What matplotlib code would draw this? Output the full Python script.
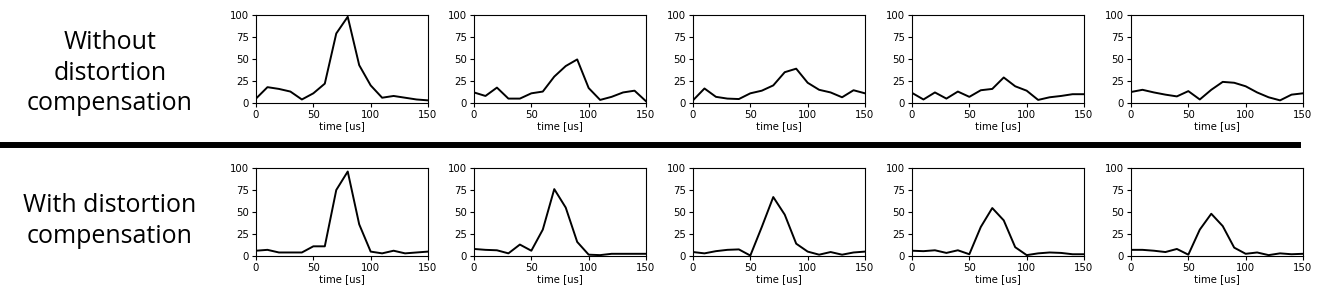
import numpy as np
import matplotlib.pyplot as plt
from matplotlib.lines import Line2D

TIME = [0, 10, 20, 30, 40, 50, 60, 70, 80, 90, 100, 110, 120, 130, 140, 150]

# without distortion compensation
WITHOUT = [
    [5, 18, 16, 13, 4, 11, 22, 79, 98, 43, 20, 6, 8, 6, 4, 3],
    [12, 8, 17.5, 5, 5, 11, 13, 30, 42, 49.5, 17, 3.5, 7, 12, 14, 2],
    [3, 16.5, 7, 5, 4.5, 11, 14, 20, 35, 39, 23, 15, 12, 6.5, 14.5, 11],
    [11.5, 4, 12, 5, 13, 7, 14.5, 16, 29, 19, 14, 3.5, 6.5, 8, 10, 10],
    [12.5, 15, 12, 9.5, 7.5, 13.5, 4, 15, 24, 23, 19, 12, 6.5, 3, 9.5, 11],
]

# with distortion compensation
WITH = [
    [6, 7, 4, 4, 4, 11, 11, 75, 96, 36, 5, 3, 6, 3, 4, 5],
    [8, 7, 6.5, 3, 13, 6, 30, 76, 55, 16, 1.5, 1, 2.5, 2.5, 2.5, 2.5],
    [4.5, 3, 5.5, 7, 7.5, 0.5, 33, 67, 47, 14, 5, 1.5, 4.5, 1.5, 4, 5],
    [6, 5.5, 6.5, 3.5, 6.5, 2, 33, 54.5, 40.5, 10, 1, 3, 4, 3.5, 2, 2],
    [7, 7, 6, 4.5, 8, 1.5, 30, 48, 34, 9.5, 2.5, 4, 1, 3, 2, 2.5],
]

ROW_LABELS = ["Without\ndistortion\ncompensation", "With distortion\ncompensation"]

W, H = 1323, 298
fig = plt.figure(figsize=(W / 100, H / 100), dpi=100)

lefts = [256, 474, 693, 912, 1131]
tops = [15, 168]
aw, ah = 172, 88

for r, rows in enumerate([WITHOUT, WITH]):
    for c, vals in enumerate(rows):
        ax = fig.add_axes([lefts[c] / W, 1 - (tops[r] + ah) / H, aw / W, ah / H])
        ax.plot(TIME, vals, color="black", linewidth=1.4)
        ax.set_xlim(0, 150)
        ax.set_ylim(0, 100)
        ax.set_xticks([0, 50, 100, 150])
        ax.set_yticks([0, 25, 50, 75, 100])
        ax.tick_params(labelsize=7.3, length=3, width=0.8, pad=2)
        ax.set_xlabel("time [us]", fontsize=7.3, labelpad=1)
        for s in ax.spines.values():
            s.set_linewidth(0.8)

# row labels
fig.text(110 / W, 1 - 73 / H, ROW_LABELS[0], ha="center", va="center",
         fontsize=18, family="Open Sans", linespacing=1.3)
fig.text(110 / W, 1 - 221 / H, ROW_LABELS[1], ha="center", va="center",
         fontsize=18, family="Open Sans", linespacing=1.35)

# thick separator
fig.add_artist(Line2D([0, 1298 / W], [1 - 145 / H, 1 - 145 / H],
                      color="black", linewidth=4.3, transform=fig.transFigure))

fig.savefig("out.png", dpi=100)
